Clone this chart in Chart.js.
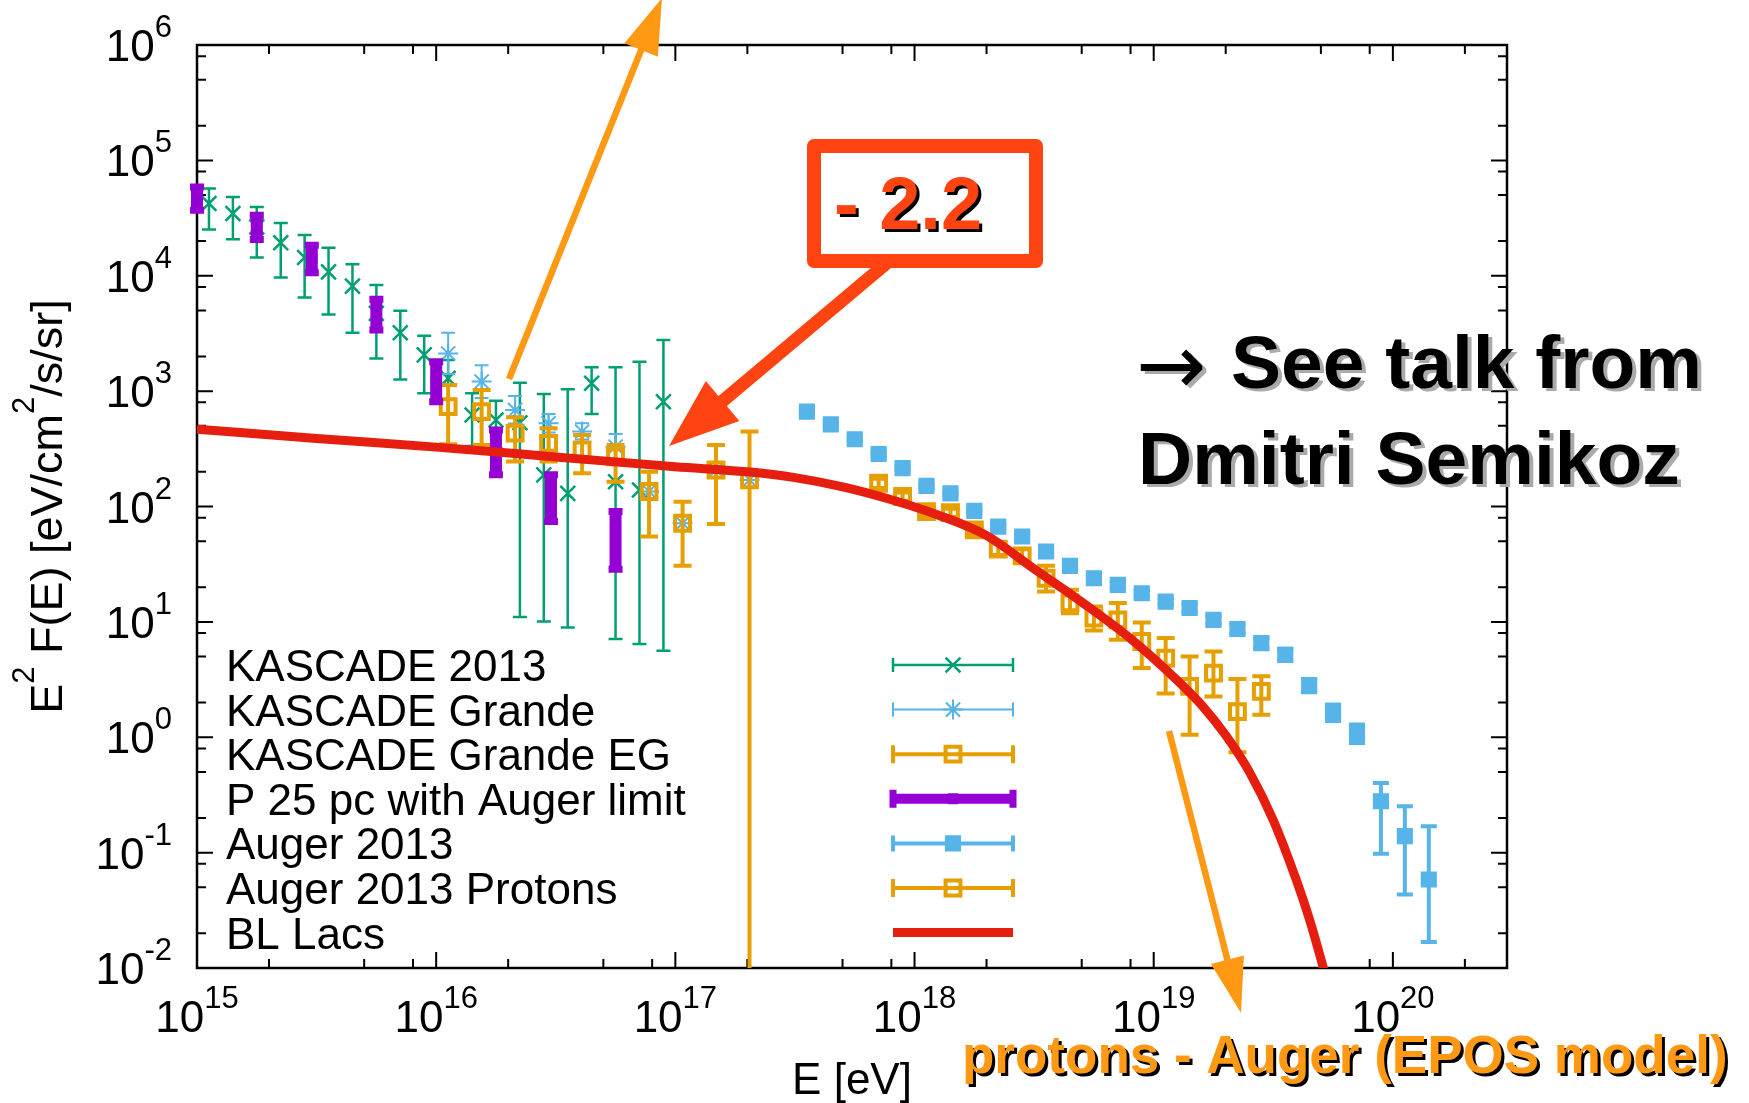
<!DOCTYPE html>
<html>
<head>
<meta charset="utf-8">
<script src="https://cdn.jsdelivr.net/npm/chart.js@4.4.1/dist/chart.umd.min.js"></script>
<style>
  html, body { margin: 0; padding: 0; background: #fff; overflow: hidden; }
  canvas { display: block; }
</style>
</head>
<body>
<canvas id="crChart" width="1749" height="1103"></canvas>
<script>
const FONT = '"Liberation Sans", Arial, Helvetica, sans-serif';

// axis ticks
const xMajor = [1e15, 1e16, 1e17, 1e18, 1e19, 1e20];
const xExp = ["15", "16", "17", "18", "19", "20"];
const yMajor = [1e-2, 1e-1, 1e0, 1e1, 1e2, 1e3, 1e4, 1e5, 1e6];
const yExp = ["-2", "-1", "0", "1", "2", "3", "4", "5", "6"];
const minorSteps = [2, 5, 8];

// KASCADE 2013
const kascadeE = [1.122e15, 1.413e15, 1.778e15, 2.239e15, 2.818e15, 3.548e15, 4.467e15, 5.623e15, 7.079e15, 8.913e15,
  1.122e16, 1.413e16, 1.778e16, 2.239e16, 2.818e16, 3.548e16, 4.467e16, 5.623e16, 7.079e16, 8.913e16];
const kascadeF = [42300, 34600, 26500, 19300, 14400, 10800, 8130, 4720, 3210, 2060,
  1290, 621, 562, 532, 188, 130, 1170, 164, 139, 809];
const kascadeLo = [25200, 20700, 14400, 9660, 6490, 4620, 3210, 1920, 1260, 957,
  851, 335, 316, 11.0, 10.1, 8.95, 634, 7.10, 6.43, 5.62];
const kascadeHi = [57000, 48200, 39500, 28700, 22500, 17500, 12600, 8300, 4970, 3020,
  1860, 957, 826, 1180, 944, 1040, 1610, 1610, 1800, 2770];

// KASCADE Grande
const grandeE = [1.122e16, 1.549e16, 2.138e16, 2.951e16, 4.074e16, 5.623e16, 7.762e16, 1.072e17, 1.479e17, 2.042e17];
const grandeF = [2120, 1210, 685, 526, 446, 330, 135, 71.6, 207, 170];
const grandeLo = [1410, 870, 525, 437, 380, 257, 55, 30.6, 70.6, 0.001];
const grandeHi = [3210, 1680, 908, 634, 526, 426, 200, 110, 341, 446];

// KASCADE Grande EG
const grandeEgE = [1.122e16, 1.549e16, 2.138e16, 2.951e16, 4.074e16, 5.623e16, 7.762e16, 1.072e17, 1.479e17, 2.042e17];
const grandeEgF = [733, 664, 432, 353, 309, 270, 135, 71.6, 207, 170];
const grandeEgLo = [347, 341, 245, 245, 194, 164, 55, 30.6, 70.6, 0.001];
const grandeEgHi = [1130, 1023, 593, 476, 417, 341, 200, 110, 341, 446];

// P 25 pc with Auger limit
const p25E = [1e15, 1.778e15, 3.02e15, 5.623e15, 1e16, 1.778e16, 3.02e16, 5.623e16];
const p25F = [46700, 26500, 14100, 4660, 1205, 299, 118, 51.4];
const p25Lo = [37000, 20600, 10600, 3380, 809, 188, 74, 28.6];
const p25Hi = [58900, 33500, 18400, 6270, 1800, 460, 188, 90.4];

// Auger 2013
const augerE = [3.548e17, 4.467e17, 5.623e17, 7.079e17, 8.913e17, 1.122e18, 1.413e18, 1.778e18, 2.239e18, 2.818e18,
  3.548e18, 4.467e18, 5.623e18, 7.079e18, 8.913e18, 1.122e19, 1.413e19, 1.778e19, 2.239e19, 2.818e19,
  3.548e19, 4.467e19, 5.623e19, 7.079e19, 8.913e19, 1.122e20, 1.413e20];
const augerF = [664, 515, 383, 285, 215, 151, 130, 91.6, 67.0, 55.0,
  40.7, 30.6, 23.9, 20.9, 17.7, 15.0, 13.2, 10.4, 8.67, 6.55,
  5.19, 2.80, 1.63, 1.09, 0.279, 0.139, 0.0585];
const augerLo = [640, 496, 369, 274, 207, 145, 125, 88.0, 64.3, 52.7,
  39.0, 29.2, 22.7, 19.8, 16.7, 14.1, 12.3, 9.6, 7.9, 5.9,
  4.6, 2.45, 1.38, 0.89, 0.098, 0.0434, 0.0168];
const augerHi = [688, 534, 397, 296, 223, 157, 135, 95.3, 69.8, 57.4,
  42.5, 32.1, 25.1, 22.1, 18.8, 16.0, 14.2, 11.3, 9.5, 7.25,
  5.85, 3.2, 1.92, 1.29, 0.402, 0.252, 0.169];

// Auger 2013 Protons
const protonE = [7.079e17, 8.913e17, 1.122e18, 1.413e18, 1.778e18, 2.239e18, 2.818e18, 3.548e18, 4.467e18,
  5.623e18, 7.079e18, 8.913e18, 1.122e19, 1.413e19, 1.778e19, 2.239e19, 2.818e19];
const protonF = [159, 122, 90.4, 88.5, 62.7, 42.7, 37.3, 23.9, 14.6, 10.8, 10.4, 6.76, 4.85, 2.76, 3.60, 1.67, 2.50];
const protonLo = [145, 112, 83.2, 81.3, 57.5, 38.0, 32.4, 18.3, 11.9, 8.43, 7.00, 3.98, 2.39, 1.05, 2.26, 0.74, 1.57];
const protonHi = [174, 132, 97.7, 95.5, 67.6, 47.9, 42.7, 30.6, 19.0, 13.6, 14.6, 9.89, 7.24, 5.02, 5.55, 3.20, 3.37];

// BL Lacs model
const blLacE = [1e15, 3.162e15, 1e16, 3.162e16, 1e17, 1.995e17, 3.162e17, 5.012e17, 7.943e17, 1.259e18,
  1.995e18, 3.162e18, 5.012e18, 7.943e18, 1.259e19, 1.585e19, 1.995e19, 2.512e19, 3.162e19, 3.981e19,
  4.467e19, 5.012e19, 5.623e19];
const blLacF = [468, 389, 327, 269, 221, 200, 178, 148, 115, 84.1,
  56.2, 28.8, 14.8, 7.24, 3.09, 1.905, 1.047, 0.501, 0.1905, 0.055,
  0.0269, 0.01175, 0.00479];

const seriesNames = ["KASCADE 2013", "KASCADE Grande", "KASCADE Grande EG", "P 25 pc with Auger limit",
  "Auger 2013", "Auger 2013 Protons", "BL Lacs"];

const GREEN = "#009e73", SKY = "#56b4e9", ORANGE = "#e69f00", PURPLE = "#9400d3", RED = "#e51e10";

function pts(xs, ys) {
  return xs.map((x, i) => ({ x: x, y: ys[i] }));
}

function errSet(label, xs, ys, lo, hi, color, style) {
  return Object.assign({
    label: label,
    data: pts(xs, ys),
    errLo: lo,
    errHi: hi,
    borderColor: color,
    pointBorderColor: color,
    pointBackgroundColor: "rgba(0,0,0,0)",
    showLine: false,
    clip: { left: 14, top: 0, right: 0, bottom: 0 },
  }, style);
}

const datasets = [
  errSet(seriesNames[0], kascadeE, kascadeF, kascadeLo, kascadeHi, GREEN,
    { pointStyle: "crossRot", pointRadius: 10.5, pointBorderWidth: 2.5, barWidth: 2.5, capHalf: 7, capWidth: 2.5, order: 6 }),
  errSet(seriesNames[1], grandeE, grandeF, grandeLo, grandeHi, SKY,
    { pointStyle: "star", pointRadius: 10, pointBorderWidth: 2, barWidth: 2, capHalf: 7, capWidth: 2, order: 5 }),
  errSet(seriesNames[2], grandeEgE, grandeEgF, grandeEgLo, grandeEgHi, ORANGE,
    { pointStyle: "rect", pointRadius: 10.5, pointBorderWidth: 4, barWidth: 4, capHalf: 9, capWidth: 4, order: 4 }),
  errSet(seriesNames[3], p25E, p25F, p25Lo, p25Hi, PURPLE,
    { pointStyle: "rect", pointRadius: 7, pointBorderWidth: 1, pointBackgroundColor: PURPLE,
      barWidth: 12, capHalf: 7, capWidth: 7, order: 3 }),
  errSet(seriesNames[4], augerE, augerF, augerLo, augerHi, SKY,
    { pointStyle: "rect", pointRadius: 10, pointBorderWidth: 2, pointBackgroundColor: SKY,
      barWidth: 4, capHalf: 8, capWidth: 4, order: 2 }),
  errSet(seriesNames[5], protonE, protonF, protonLo, protonHi, ORANGE,
    { pointStyle: "rect", pointRadius: 10.5, pointBorderWidth: 4, barWidth: 4, capHalf: 9, capWidth: 4, order: 1 }),
  {
    label: seriesNames[6],
    data: pts(blLacE, blLacF),
    showLine: true,
    borderColor: RED,
    borderWidth: 9,
    pointRadius: 0,
    cubicInterpolationMode: "monotone",
    order: 0,
  },
];

function drawErrorBars(chart, ds) {
  const ctx = chart.ctx, a = chart.chartArea;
  const xs = chart.scales.x, ys = chart.scales.y;
  ctx.save();
  ctx.beginPath();
  ctx.rect(a.left - 14, a.top, a.right - a.left + 14, a.bottom - a.top);
  ctx.clip();
  ctx.strokeStyle = ds.borderColor;
  ctx.lineCap = "butt";
  ds.data.forEach((p, i) => {
    const px = xs.getPixelForValue(p.x);
    const top = ys.getPixelForValue(ds.errHi[i]);
    const bot = ys.getPixelForValue(ds.errLo[i]);
    ctx.lineWidth = ds.barWidth;
    ctx.beginPath();
    ctx.moveTo(px, top);
    ctx.lineTo(px, bot);
    ctx.stroke();
    ctx.lineWidth = ds.capWidth;
    ctx.beginPath();
    ctx.moveTo(px - ds.capHalf, top);
    ctx.lineTo(px + ds.capHalf, top);
    ctx.moveTo(px - ds.capHalf, bot);
    ctx.lineTo(px + ds.capHalf, bot);
    ctx.stroke();
  });
  ctx.restore();
}

function drawFrame(chart) {
  const ctx = chart.ctx, a = chart.chartArea;
  const xs = chart.scales.x, ys = chart.scales.y;
  ctx.save();
  ctx.strokeStyle = "#000";
  ctx.lineWidth = 2;
  ctx.beginPath();
  const xTicks = [];
  xMajor.forEach((v) => {
    xTicks.push([v, 16]);
    minorSteps.forEach((m) => xTicks.push([v * m, 9]));
  });
  xTicks.forEach(([v, len]) => {
    if (v < xs.min || v > xs.max) return;
    const px = xs.getPixelForValue(v);
    ctx.moveTo(px, a.bottom); ctx.lineTo(px, a.bottom - len);
    ctx.moveTo(px, a.top); ctx.lineTo(px, a.top + len);
  });
  const yTicks = [];
  yMajor.forEach((v) => {
    yTicks.push([v, 16]);
    minorSteps.forEach((m) => yTicks.push([v * m, 9]));
  });
  yTicks.forEach(([v, len]) => {
    if (v < ys.min || v > ys.max) return;
    const py = ys.getPixelForValue(v);
    ctx.moveTo(a.left, py); ctx.lineTo(a.left + len, py);
    ctx.moveTo(a.right, py); ctx.lineTo(a.right - len, py);
  });
  ctx.stroke();
  ctx.lineWidth = 2.5;
  ctx.strokeRect(a.left, a.top, a.right - a.left, a.bottom - a.top);
  ctx.restore();
}

function powerLabel(ctx, exp, x, base, align) {
  ctx.font = "44px " + FONT;
  const w1 = ctx.measureText("10").width;
  ctx.font = "31px " + FONT;
  const w2 = ctx.measureText(exp).width;
  const sx = align === "center" ? x - (w1 + w2) / 2 : x - (w1 + w2);
  ctx.textAlign = "left";
  ctx.textBaseline = "alphabetic";
  ctx.font = "44px " + FONT;
  ctx.fillText("10", sx, base);
  ctx.font = "31px " + FONT;
  ctx.fillText(exp, sx + w1, base - 24);
}

function drawAxisText(chart) {
  const ctx = chart.ctx, a = chart.chartArea;
  const xs = chart.scales.x, ys = chart.scales.y;
  ctx.save();
  ctx.fillStyle = "#000";
  xMajor.forEach((v, i) => powerLabel(ctx, xExp[i], xs.getPixelForValue(v), 1032, "center"));
  yMajor.forEach((v, i) => powerLabel(ctx, yExp[i], 172, ys.getPixelForValue(v) + 16, "right"));

  // x title
  ctx.font = "44px " + FONT;
  ctx.textAlign = "center";
  ctx.fillText("E [eV]", (a.left + a.right) / 2, 1094);

  // y title, rotated
  const parts = [["E", 0], ["2", 1], [" F(E) [eV/cm", 0], ["2", 1], ["/s/sr]", 0]];
  ctx.translate(62, (a.top + a.bottom) / 2);
  ctx.rotate(-Math.PI / 2);
  ctx.textAlign = "left";
  let total = 0;
  parts.forEach(([t, s]) => {
    ctx.font = (s ? "31px " : "45px ") + FONT;
    total += ctx.measureText(t).width;
  });
  let cx = -total / 2;
  parts.forEach(([t, s]) => {
    ctx.font = (s ? "31px " : "45px ") + FONT;
    ctx.fillText(t, cx, s ? -28 : 0);
    cx += ctx.measureText(t).width;
  });
  ctx.restore();
}

function drawKey(chart) {
  const ctx = chart.ctx;
  ctx.save();
  const x0 = 893, x1 = 1013, xc = (x0 + x1) / 2;
  seriesNames.forEach((name, i) => {
    const yc = 665 + i * 44.6;
    ctx.fillStyle = "#000";
    ctx.font = "44px " + FONT;
    ctx.textAlign = "left";
    ctx.textBaseline = "alphabetic";
    ctx.fillText(name, 226, yc + 16);

    const ds = datasets[i];
    ctx.strokeStyle = ds.borderColor;
    ctx.lineCap = "butt";
    ctx.lineWidth = ds.barWidth || ds.borderWidth;
    if (i === 3) ctx.lineWidth = 10;
    ctx.beginPath();
    ctx.moveTo(x0, yc); ctx.lineTo(x1, yc);
    ctx.stroke();
    if (ds.capHalf) {
      ctx.lineWidth = ds.capWidth;
      const h = i === 3 ? 9 : ds.capHalf;
      ctx.beginPath();
      ctx.moveTo(x0, yc - h); ctx.lineTo(x0, yc + h);
      ctx.moveTo(x1, yc - h); ctx.lineTo(x1, yc + h);
      ctx.stroke();
      ctx.fillStyle = ds.pointBackgroundColor;
      ctx.strokeStyle = ds.pointBorderColor;
      ctx.lineWidth = ds.pointBorderWidth;
      Chart.helpers.drawPoint(ctx, {
        pointStyle: ds.pointStyle, radius: ds.pointRadius, rotation: 0, borderWidth: ds.pointBorderWidth,
      }, xc, yc);
    }
  });
  ctx.restore();
}

function arrow(ctx, x1, y1, x2, y2, lw, hl, hw, color) {
  const dx = x2 - x1, dy = y2 - y1, L = Math.hypot(dx, dy);
  const ux = dx / L, uy = dy / L;
  const bx = x2 - ux * hl, by = y2 - uy * hl;
  ctx.save();
  ctx.strokeStyle = color;
  ctx.fillStyle = color;
  ctx.lineWidth = lw;
  ctx.lineCap = "butt";
  ctx.beginPath();
  ctx.moveTo(x1, y1);
  ctx.lineTo(bx + ux * 3, by + uy * 3);
  ctx.stroke();
  ctx.beginPath();
  ctx.moveTo(x2, y2);
  ctx.lineTo(bx - uy * hw, by + ux * hw);
  ctx.lineTo(bx + uy * hw, by - ux * hw);
  ctx.closePath();
  ctx.fill();
  ctx.restore();
}

function shadowText(ctx, text, x, y, font, fill, shade, dx, dy) {
  ctx.font = font;
  ctx.textAlign = "left";
  ctx.textBaseline = "alphabetic";
  ctx.fillStyle = shade;
  ctx.fillText(text, x + dx, y + dy);
  ctx.fillStyle = fill;
  ctx.fillText(text, x, y);
}

function drawNotes(chart) {
  const ctx = chart.ctx;
  ctx.save();
  const ARROW_ORANGE = "#ff9914", BOX_RED = "#ff4411";

  // upper orange arrow
  arrow(ctx, 509, 379, 662, -2, 6.5, 56, 18, ARROW_ORANGE);

  // "- 2.2" box and arrow
  arrow(ctx, 888, 262, 669, 446, 13, 70, 26, BOX_RED);
  ctx.fillStyle = "#fff";
  ctx.fillRect(814, 146, 222, 115);
  ctx.strokeStyle = BOX_RED;
  ctx.lineWidth = 14;
  ctx.lineJoin = "round";
  ctx.strokeRect(814, 146, 222, 115);
  shadowText(ctx, "- 2.2", 834, 229, "bold 74px " + FONT, BOX_RED, "#000", 3, 3);

  // talk note
  shadowText(ctx, "\u2192", 1136, 394, "84px \"DejaVu Sans\", " + FONT, "#000", "#aaa", 4, 3);
  shadowText(ctx, "See talk from", 1231, 388, "bold 75px " + FONT, "#000", "#aaa", 4, 3);
  shadowText(ctx, "Dmitri Semikoz", 1138, 484, "bold 75px " + FONT, "#000", "#aaa", 4, 3);

  // lower orange arrow and caption
  arrow(ctx, 1169, 731, 1241, 1013, 6.5, 55, 17, ARROW_ORANGE);
  shadowText(ctx, "protons - Auger (EPOS model)", 962, 1073, "bold 53px " + FONT, ARROW_ORANGE, "#000", 3, 3);
  ctx.restore();
}

const gnuplotLook = {
  id: "gnuplotLook",
  beforeDatasetsDraw(chart) {
    drawFrame(chart);
  },
  beforeDatasetDraw(chart, args) {
    const ds = chart.data.datasets[args.index];
    if (ds.errLo) drawErrorBars(chart, ds);
  },
  afterDraw(chart) {
    drawAxisText(chart);
    drawKey(chart);
    drawNotes(chart);
  },
};

new Chart(document.getElementById("crChart"), {
  type: "scatter",
  data: { datasets: datasets },
  options: {
    responsive: false,
    animation: false,
    events: [],
    layout: { padding: { left: 197, right: 242, top: 45, bottom: 135 } },
    scales: {
      x: { type: "logarithmic", min: 1e15, max: 3e20, display: false },
      y: { type: "logarithmic", min: 1e-2, max: 1e6, display: false },
    },
    plugins: { legend: { display: false }, tooltip: { enabled: false } },
  },
  plugins: [gnuplotLook],
});
</script>
</body>
</html>
